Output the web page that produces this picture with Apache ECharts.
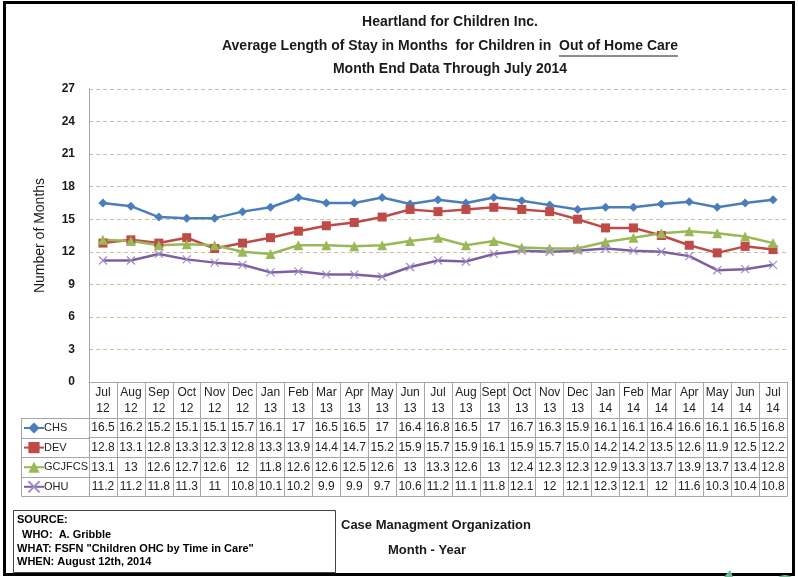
<!DOCTYPE html>
<html>
<head>
<meta charset="utf-8">
<script src="https://cdn.jsdelivr.net/npm/echarts@6/dist/echarts.min.js"></script>
<style>
  html, body { margin: 0; padding: 0; background: #fff; }
  #chart { width: 798px; height: 577px; }
</style>
</head>
<body>
<div id="chart"></div>
<script>
const FONT = '"Liberation Sans", Arial, sans-serif';

// categories
const months = ['Jul', 'Aug', 'Sep', 'Oct', 'Nov', 'Dec', 'Jan', 'Feb', 'Mar', 'Apr', 'May', 'Jun',
  'Jul', 'Aug', 'Sept', 'Oct', 'Nov', 'Dec', 'Jan', 'Feb', 'Mar', 'Apr', 'May', 'Jun', 'Jul'];
const years = ['12', '12', '12', '12', '12', '12', '13', '13', '13', '13', '13', '13',
  '13', '13', '13', '13', '13', '13', '14', '14', '14', '14', '14', '14', '14'];

// series values (months)
const chs = [16.5, 16.2, 15.2, 15.1, 15.1, 15.7, 16.1, 17, 16.5, 16.5, 17, 16.4, 16.8,
  16.5, 17, 16.7, 16.3, 15.9, 16.1, 16.1, 16.4, 16.6, 16.1, 16.5, 16.8];
const dev = [12.8, 13.1, 12.8, 13.3, 12.3, 12.8, 13.3, 13.9, 14.4, 14.7, 15.2, 15.9, 15.7,
  15.9, 16.1, 15.9, 15.7, 15.0, 14.2, 14.2, 13.5, 12.6, 11.9, 12.5, 12.2];
const gcjfcs = [13.1, 13, 12.6, 12.7, 12.6, 12, 11.8, 12.6, 12.6, 12.5, 12.6, 13, 13.3,
  12.6, 13, 12.4, 12.3, 12.3, 12.9, 13.3, 13.7, 13.9, 13.7, 13.4, 12.8];
const ohu = [11.2, 11.2, 11.8, 11.3, 11, 10.8, 10.1, 10.2, 9.9, 9.9, 9.7, 10.6, 11.2,
  11.1, 11.8, 12.1, 12, 12.1, 12.3, 12.1, 12, 11.6, 10.3, 10.4, 10.8];

// y axis
const yMin = 0, yMax = 27, yStep = 3;

const seriesDefs = [
  { name: 'CHS', data: chs, color: '#4A7EBB', symbol: 'diamond', size: 9, fixed: false },
  { name: 'DEV', data: dev, color: '#BE4B48', symbol: 'rect', size: 9, fixed: true },
  { name: 'GCJFCS', data: gcjfcs, color: '#98B954', symbol: 'triangle', size: 10, fixed: false },
  { name: 'OHU', data: ohu, color: '#7D60A0', symbol: 'path://M0,0L10,10M10,0L0,10', size: 8, fixed: false }
];

const chart = echarts.init(document.getElementById('chart'));

const gridLeft = 89, gridRight = 787, gridTop = 89, gridBottom = 382;
const headerH = 36;
const rowH = 19.6;
const lineColor = '#A6A6A6';

const catLabels = months.map((m, i) => m + '\n' + years[i]);

const xAxes = [{
  type: 'category',
  data: catLabels,
  boundaryGap: true,
  axisLine: { lineStyle: { color: lineColor } },
  axisTick: { show: true, interval: 0, length: headerH, lineStyle: { color: lineColor } },
  axisLabel: {
    interval: 0, margin: 3, color: '#222', fontFamily: FONT, fontSize: 12, lineHeight: 16
  }
}];

seriesDefs.forEach((s, k) => {
  const labels = s.data.map(v => s.fixed ? v.toFixed(1) : String(v));
  xAxes.push({
    type: 'category',
    data: catLabels,
    position: 'bottom',
    offset: headerH + k * rowH,
    boundaryGap: true,
    axisLine: { show: true, lineStyle: { color: lineColor } },
    axisTick: { show: true, interval: 0, length: rowH, lineStyle: { color: lineColor } },
    axisLabel: {
      interval: 0, margin: 4, color: '#222', fontFamily: FONT, fontSize: 12,
      formatter: (val, idx) => labels[idx]
    }
  });
});

xAxes.push({
  type: 'category',
  data: catLabels,
  position: 'bottom',
  offset: headerH + 4 * rowH,
  axisLine: { show: true, lineStyle: { color: lineColor } },
  axisTick: { show: false },
  axisLabel: { show: false }
});

const series = seriesDefs.map(s => ({
  name: s.name,
  type: 'line',
  xAxisIndex: 0,
  data: s.data,
  symbol: s.symbol,
  symbolSize: s.size,
  smooth: false,
  lineStyle: { color: s.color, width: 2.5 },
  itemStyle: s.name === 'OHU'
    ? { color: s.color, borderColor: '#A08CC8', borderWidth: 1.2 }
    : { color: s.color },
  emphasis: { disabled: true }
}));

// measure text for the title underline
const ctx = document.createElement('canvas').getContext('2d');
ctx.font = 'bold 14px ' + FONT;
const title2 = 'Average Length of Stay in Months  for Children in  Out of Home Care';
const ulText = 'Out of Home Care';
const titleX = 450;
const wAll = ctx.measureText(title2).width;
const wUl = ctx.measureText(ulText).width;
const ulRight = titleX + wAll / 2;
const ulLeft = ulRight - wUl;

const titleStyle = { fontFamily: FONT, fontSize: 14, fontWeight: 'bold', fill: '#1a1a1a', textAlign: 'center', textVerticalAlign: 'middle' };

const rowYs = [0, 1, 2, 3, 4].map(k => gridBottom + headerH + k * rowH);

const graphic = [
  { type: 'rect', shape: { x: 4.5, y: 2.5, width: 789, height: 572 }, style: { fill: 'none', stroke: '#000', lineWidth: 3 }, silent: true },
  { type: 'text', x: titleX, y: 22, style: Object.assign({ text: 'Heartland for Children Inc.' }, titleStyle) },
  { type: 'text', x: titleX, y: 46, style: Object.assign({ text: title2 }, titleStyle) },
  { type: 'line', shape: { x1: ulLeft, y1: 56, x2: ulRight, y2: 56 }, style: { stroke: '#1a1a1a', lineWidth: 1 } },
  { type: 'text', x: titleX, y: 69, style: Object.assign({ text: 'Month End Data Through July 2014' }, titleStyle) },
  // legend column of data table
  { type: 'line', shape: { x1: 21.5, y1: rowYs[0], x2: 21.5, y2: rowYs[4] }, style: { stroke: lineColor, lineWidth: 1 } },
  ...rowYs.map(y => ({ type: 'line', shape: { x1: 21.5, y1: Math.round(y) + 0.5, x2: gridLeft, y2: Math.round(y) + 0.5 }, style: { stroke: lineColor, lineWidth: 1 } })),
  // source box
  { type: 'rect', shape: { x: 13.5, y: 510.5, width: 322, height: 62 }, style: { fill: '#fff', stroke: '#444', lineWidth: 1 } },
  { type: 'text', x: 17, y: 520, style: { text: 'SOURCE:', fontFamily: FONT, fontSize: 11, fontWeight: 'bold', fill: '#000', textVerticalAlign: 'middle' } },
  { type: 'text', x: 22, y: 535, style: { text: 'WHO:  A. Gribble', fontFamily: FONT, fontSize: 11, fontWeight: 'bold', fill: '#000', textVerticalAlign: 'middle' } },
  { type: 'text', x: 17, y: 549, style: { text: 'WHAT: FSFN "Children OHC by Time in Care"', fontFamily: FONT, fontSize: 11, fontWeight: 'bold', fill: '#000', textVerticalAlign: 'middle' } },
  { type: 'text', x: 17, y: 562, style: { text: 'WHEN: August 12th, 2014', fontFamily: FONT, fontSize: 11, fontWeight: 'bold', fill: '#000', textVerticalAlign: 'middle' } },
  { type: 'text', x: 341, y: 525, style: { text: 'Case Managment Organization', fontFamily: FONT, fontSize: 13, fontWeight: 'bold', fill: '#1a1a1a', textVerticalAlign: 'middle' } },
  { type: 'text', x: 388, y: 550, style: { text: 'Month - Year', fontFamily: FONT, fontSize: 13, fontWeight: 'bold', fill: '#1a1a1a', textVerticalAlign: 'middle' } },
  // logo fragments at the bottom edge
  { type: 'circle', shape: { cx: 785, cy: 588, r: 13 }, style: { fill: '#6DBE96' }, silent: true },
  { type: 'polygon', shape: { points: [[724, 577], [730, 570], [733, 577]] }, style: { fill: '#6DBE96' }, silent: true }
];

chart.setOption({
  animation: false,
  textStyle: { fontFamily: FONT },
  grid: { left: gridLeft, right: 798 - gridRight, top: gridTop, bottom: 577 - gridBottom, containLabel: false },
  legend: {
    orient: 'vertical',
    left: 23,
    top: gridBottom + headerH + 3,
    padding: 0,
    itemWidth: 20,
    itemHeight: 14,
    itemGap: 5.6,
    selectedMode: false,
    textStyle: { color: '#222', fontFamily: FONT, fontSize: 11, lineHeight: 14, padding: [0, 0, 0, -5] },
    data: seriesDefs.map(s => s.name)
  },
  xAxis: xAxes,
  yAxis: {
    type: 'value',
    min: yMin,
    max: yMax,
    interval: yStep,
    name: 'Number of Months',
    nameLocation: 'middle',
    nameGap: 42,
    nameRotate: 90,
    nameTextStyle: { fontFamily: FONT, fontSize: 14, color: '#1a1a1a' },
    axisLine: { show: true, lineStyle: { color: lineColor } },
    axisTick: { show: false },
    axisLabel: { margin: 14, color: '#1a1a1a', fontFamily: FONT, fontSize: 12, fontWeight: 'bold' },
    splitLine: { show: true, lineStyle: { color: '#C9C29E', type: [4, 3], width: 1 } }
  },
  series: series,
  graphic: graphic
});
</script>
</body>
</html>
